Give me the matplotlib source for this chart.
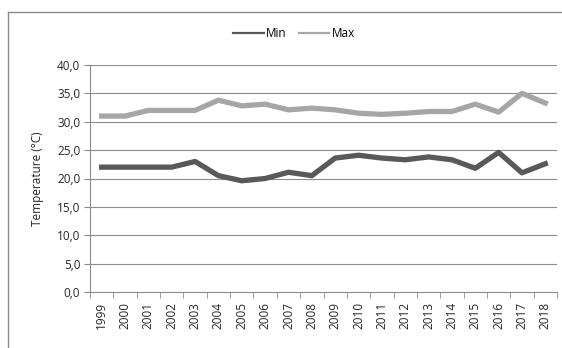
import numpy as np
import matplotlib
matplotlib.use("Agg")
import matplotlib.pyplot as plt
from matplotlib.lines import Line2D
from matplotlib.ticker import FuncFormatter, FixedLocator

# data
years = [str(y) for y in range(1999, 2019)]
t_min = [22.0, 22.0, 22.0, 22.0, 23.0, 20.5, 19.6, 20.0, 21.1, 20.5,
         23.6, 24.1, 23.6, 23.3, 23.8, 23.3, 21.8, 24.6, 21.0, 22.6]
t_max = [31.0, 31.0, 32.0, 32.0, 32.0, 33.8, 32.8, 33.1, 32.1, 32.4,
         32.1, 31.5, 31.3, 31.5, 31.8, 31.8, 33.1, 31.7, 35.0, 33.3]
y_ticks = [0, 5, 10, 15, 20, 25, 30, 35, 40]

W, H = 562, 348
plt.rcParams['font.family'] = ['Open Sans', 'DejaVu Sans']

fig = plt.figure(figsize=(W / 100, H / 100), dpi=100)
ax = fig.add_axes([90 / W, 1 - 292 / H, (557 - 90) / W, (292 - 65) / H])

x = np.arange(len(years))
ax.plot(x, t_min, color='#595959', lw=3.8, solid_joinstyle='round', label='Min', zorder=3)
ax.plot(x, t_max, color='#a6a6a6', lw=3.8, solid_joinstyle='round', label='Max', zorder=3)

ax.set_xlim(-0.5, len(years) - 0.5)
ax.set_ylim(0, 40)
ax.set_yticks(y_ticks)
ax.yaxis.set_major_formatter(FuncFormatter(lambda v, p: ('%.1f' % v).replace('.', ',')))
ax.yaxis.grid(True, color='#8c8c8c', lw=0.8)
ax.set_axisbelow(True)

ax.set_xticks(x)
ax.set_xticklabels(years, rotation=90)
ax.xaxis.set_minor_locator(FixedLocator(np.arange(-0.5, len(years), 1.0)))
ax.tick_params(axis='x', which='major', length=0, pad=7, labelsize=8.5, colors='#262626')
ax.tick_params(axis='x', which='minor', length=4, color='#8c8c8c', direction='out')
ax.tick_params(axis='y', length=4, colors='#8c8c8c', labelcolor='#262626', labelsize=8.5, pad=3)

for s in ['top', 'right']:
    ax.spines[s].set_visible(False)
for s in ['left', 'bottom']:
    ax.spines[s].set_color('#8c8c8c')
    ax.spines[s].set_linewidth(0.8)

ax.set_ylabel('Temperature (°C)', fontsize=8.5, color='#262626', labelpad=9)

ax.legend(loc='lower center', bbox_to_anchor=((294 - 90) / (557 - 90), (292 - 35) / (292 - 65) - 0.045),
          ncol=2, frameon=False, fontsize=8.5, handlelength=2.6, handletextpad=0.2,
          columnspacing=1.0, borderaxespad=0)
for line in ax.get_legend().get_lines():
    line.set_linewidth(1.6)

# outer chart frame (only top and left visible in the crop)
fig.add_artist(Line2D([8 / W, 1], [1 - 12 / H, 1 - 12 / H], color='#8c8c8c', lw=1, transform=fig.transFigure))
fig.add_artist(Line2D([8 / W, 8 / W], [1 - 12 / H, 0], color='#8c8c8c', lw=1, transform=fig.transFigure))

fig.savefig('out.png', dpi=100)
